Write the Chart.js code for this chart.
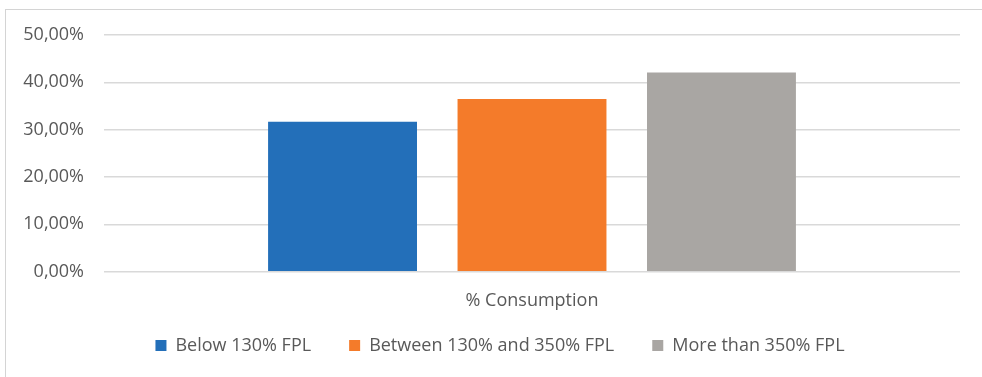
<!DOCTYPE html>
<html>
<head>
<meta charset="utf-8">
<script src="https://cdn.jsdelivr.net/npm/chart.js@4.4.1/dist/chart.umd.min.js"></script>
<style>
  html, body { margin: 0; padding: 0; background: #ffffff; overflow: hidden; }
  #wrap { position: relative; width: 982px; height: 377px; overflow: hidden; }
  #frame { position: absolute; left: 5px; top: 9px; width: 1100px; height: 500px;
           border: 1px solid #d4d4d4; box-sizing: border-box; }
  canvas { position: absolute; left: 0; top: 0; }
</style>
</head>
<body>
<div id="wrap">
  <div id="frame"></div>
  <canvas id="chart" width="982" height="377"></canvas>
</div>
<script>
// Share of consumption by income group (relative to the federal poverty level)
const categories = ['% Consumption'];
const seriesNames = ['Below 130% FPL', 'Between 130% and 350% FPL', 'More than 350% FPL'];
const belowValues = [31.7];
const betweenValues = [36.5];
const moreValues = [42.1];
const yMin = 0;
const yMax = 50;
const yStep = 10;

const seriesColors = ['#236fb9', '#f47b2a', '#a9a6a3'];
const textColor = '#595959';
const fontFamily = '"Open Sans", Lato, "DejaVu Sans", sans-serif';
const seriesValues = [belowValues, betweenValues, moreValues];

const datasets = seriesNames.map((name, i) => ({
  label: name,
  data: seriesValues[i],
  backgroundColor: seriesColors[i],
  borderWidth: 0,
  categoryPercentage: 0.664,
  barPercentage: 0.786
}));

// European style percent labels: 50,00%
const formatPercent = v => Number(v).toFixed(2).replace('.', ',') + '%';

// Keep the legend row centred under the plot and tucked up below the axis label
const legendPlacement = {
  id: 'legendPlacement',
  afterLayout(chart) {
    const lg = chart.legend;
    lg.left = 40;
    lg.width = lg.right - lg.left;
    lg.top = 298.5;
    lg.bottom = lg.top + lg.height;
  }
};

new Chart(document.getElementById('chart'), {
  type: 'bar',
  data: { labels: categories, datasets },
  plugins: [legendPlacement],
  options: {
    responsive: false,
    animation: false,
    devicePixelRatio: 1,
    layout: { padding: { top: 35, right: 22, bottom: 0, left: 0 } },
    plugins: {
      legend: {
        position: 'bottom',
        labels: {
          boxWidth: 11,
          boxHeight: 11,
          padding: 38,
          color: textColor,
          font: { family: fontFamily, size: 18 }
        }
      },
      tooltip: { enabled: false }
    },
    scales: {
      x: {
        grid: { display: false },
        border: { display: false },
        ticks: { color: textColor, padding: 10, font: { family: fontFamily, size: 18 } },
        afterFit: function (scale) { scale.height = 39.3; }
      },
      y: {
        min: yMin,
        max: yMax,
        grid: { color: '#d9d9d9', lineWidth: 1.5, drawTicks: false },
        border: { display: false },
        ticks: {
          stepSize: yStep,
          color: textColor,
          padding: 20,
          font: { family: fontFamily, size: 18 },
          callback: function (value) { return formatPercent(value); }
        },
        afterFit: function (scale) { scale.width = 104; }
      }
    }
  }
});
</script>
</body>
</html>
